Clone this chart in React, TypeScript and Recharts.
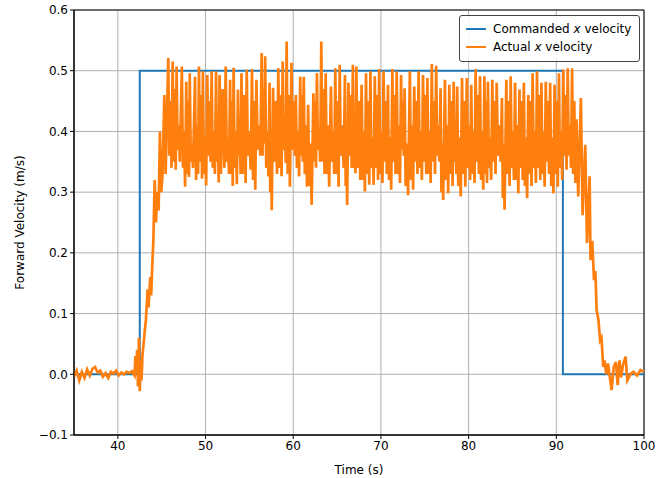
import React from "react";
import {
  LineChart,
  Line,
  XAxis,
  YAxis,
  CartesianGrid,
  Legend,
  ReferenceArea,
} from "recharts";

// Commanded forward velocity step (time s, velocity m/s)
const commandedT = [35, 42.5, 42.5, 90.75, 90.75, 100];
const commandedV = [0, 0, 0.5, 0.5, 0, 0];

const actualPoints: [number, number][] = [
  // idle before the command
  [35.0, -0.004], [35.3, 0.006], [35.6, -0.01], [35.9, 0.004], [36.2, -0.006],
  [36.5, 0.008], [36.8, -0.002], [37.1, 0.009], [37.4, 0.012], [37.7, 0.003],
  [38.0, 0.006], [38.3, -0.004], [38.6, 0.002], [38.9, -0.006], [39.2, 0.004],
  [39.5, 0.001], [39.8, 0.006], [40.1, -0.002], [40.4, 0.003], [40.7, 0.0],
  [41.0, 0.004], [41.3, 0.002], [41.6, 0.005], [41.9, -0.002], [42.0, 0.03],
  [42.1, 0.0], [42.2, 0.04], [42.3, -0.02], [42.4, 0.06], [42.5, -0.028],
  // ramp up
  [42.6, 0.02], [42.7, -0.01], [42.8, 0.03], [43.0, 0.06], [43.2, 0.09],
  [43.4, 0.14], [43.5, 0.11], [43.7, 0.16], [43.8, 0.13], [43.9, 0.17],
  [44.05, 0.22], [44.2, 0.32], [44.35, 0.25], [44.5, 0.3], [44.65, 0.27],
  [44.8, 0.4], [44.95, 0.3], [45.1, 0.33], [45.3, 0.46], [45.45, 0.33],
  // oscillating cruise
  [45.75, 0.521], [45.87, 0.36], [46.0, 0.45], [46.12, 0.34],
  [46.25, 0.515], [46.37, 0.35], [46.5, 0.47], [46.6, 0.337],
  [46.7, 0.507], [46.82, 0.37], [46.95, 0.41], [47.07, 0.35],
  [47.3, 0.507], [47.42, 0.34], [47.55, 0.4], [47.67, 0.309],
  [47.8, 0.482], [47.92, 0.33], [48.02, 0.45], [48.12, 0.325],
  [48.2, 0.496], [48.32, 0.35], [48.45, 0.38], [48.57, 0.34],
  [48.8, 0.49], [48.92, 0.32], [49.05, 0.41], [49.15, 0.33],
  [49.25, 0.507], [49.37, 0.35], [49.5, 0.46], [49.6, 0.322],
  [49.7, 0.499], [49.82, 0.33], [49.95, 0.39], [50.07, 0.311],
  [50.2, 0.493], [50.32, 0.36], [50.45, 0.45], [50.57, 0.35],
  [50.7, 0.499], [50.82, 0.34], [50.95, 0.4], [51.07, 0.33],
  [51.2, 0.499], [51.3, 0.35], [51.4, 0.41], [51.5, 0.316],
  [51.6, 0.493], [51.75, 0.33], [51.95, 0.47], [52.15, 0.34],
  [52.3, 0.507], [52.42, 0.35], [52.55, 0.39], [52.67, 0.33],
  [52.8, 0.485], [52.9, 0.33], [53.0, 0.45], [53.1, 0.31],
  [53.2, 0.505], [53.32, 0.34], [53.45, 0.4], [53.57, 0.313],
  [53.7, 0.469], [53.8, 0.36], [53.9, 0.41], [54.0, 0.33],
  [54.1, 0.496], [54.22, 0.33], [54.4, 0.46], [54.57, 0.315],
  [54.7, 0.502], [54.82, 0.36], [54.98, 0.4], [55.15, 0.337],
  [55.3, 0.503], [55.42, 0.32], [55.55, 0.45], [55.67, 0.304],
  [55.8, 0.485], [55.95, 0.37], [56.1, 0.41], [56.25, 0.36],
  [56.4, 0.529], [56.5, 0.36], [56.6, 0.47], [56.7, 0.38],
  [56.8, 0.524], [56.92, 0.34], [57.05, 0.4], [57.17, 0.326],
  [57.3, 0.48], [57.38, 0.3], [57.46, 0.39], [57.55, 0.27],
  [57.7, 0.472], [57.85, 0.35], [58.0, 0.45], [58.15, 0.33],
  [58.3, 0.504], [58.42, 0.34], [58.55, 0.46], [58.67, 0.326],
  [58.8, 0.515], [58.92, 0.37], [59.05, 0.41], [59.15, 0.348],
  [59.25, 0.548], [59.37, 0.33], [59.5, 0.46], [59.62, 0.309],
  [59.8, 0.513], [59.92, 0.37], [60.05, 0.45], [60.17, 0.36],
  [60.3, 0.46], [60.42, 0.34], [60.55, 0.4], [60.67, 0.326],
  [60.8, 0.49], [60.9, 0.36], [61.0, 0.46], [61.1, 0.35],
  [61.2, 0.49], [61.32, 0.33], [61.45, 0.41], [61.57, 0.309],
  [61.7, 0.444], [61.82, 0.31], [61.95, 0.38], [62.1, 0.279],
  [62.3, 0.463], [62.4, 0.35], [62.5, 0.45], [62.6, 0.34],
  [62.7, 0.496], [62.82, 0.37], [62.95, 0.4], [63.07, 0.35],
  [63.2, 0.548], [63.32, 0.35], [63.45, 0.47], [63.57, 0.33],
  [63.7, 0.496], [63.82, 0.33], [63.95, 0.41], [64.1, 0.309],
  [64.3, 0.474], [64.42, 0.35], [64.55, 0.4], [64.67, 0.33],
  [64.8, 0.504], [64.92, 0.33], [65.05, 0.45], [65.17, 0.309],
  [65.3, 0.51], [65.42, 0.36], [65.6, 0.41], [65.75, 0.34],
  [65.9, 0.493], [65.98, 0.31], [66.06, 0.39], [66.15, 0.279],
  [66.3, 0.48], [66.42, 0.36], [66.55, 0.46], [66.67, 0.34],
  [66.8, 0.51], [66.9, 0.34], [67.0, 0.4], [67.1, 0.331],
  [67.2, 0.507], [67.32, 0.34], [67.5, 0.45], [67.65, 0.32],
  [67.8, 0.477], [67.92, 0.32], [68.05, 0.4], [68.17, 0.301],
  [68.3, 0.496], [68.42, 0.33], [68.55, 0.45], [68.67, 0.312],
  [68.8, 0.499], [68.92, 0.34], [69.05, 0.39], [69.17, 0.312],
  [69.3, 0.491], [69.42, 0.34], [69.55, 0.46], [69.67, 0.32],
  [69.8, 0.503], [69.92, 0.33], [70.05, 0.4], [70.17, 0.315],
  [70.3, 0.499], [70.42, 0.35], [70.55, 0.45], [70.67, 0.33],
  [70.8, 0.477], [70.92, 0.32], [71.05, 0.39], [71.17, 0.304],
  [71.3, 0.503], [71.42, 0.35], [71.55, 0.46], [71.67, 0.33],
  [71.8, 0.499], [71.92, 0.33], [72.05, 0.41], [72.17, 0.315],
  [72.3, 0.493], [72.4, 0.37], [72.5, 0.45], [72.6, 0.36],
  [72.7, 0.471], [72.82, 0.31], [72.95, 0.38], [73.1, 0.295],
  [73.3, 0.499], [73.42, 0.32], [73.55, 0.41], [73.67, 0.304],
  [73.8, 0.474], [73.92, 0.35], [74.05, 0.45], [74.17, 0.33],
  [74.3, 0.499], [74.42, 0.34], [74.55, 0.4], [74.67, 0.32],
  [74.8, 0.493], [74.92, 0.35], [75.05, 0.46], [75.17, 0.33],
  [75.3, 0.488], [75.42, 0.33], [75.55, 0.4], [75.67, 0.315],
  [75.8, 0.511], [75.92, 0.35], [76.05, 0.45], [76.17, 0.33],
  [76.3, 0.508], [76.42, 0.36], [76.55, 0.41], [76.67, 0.35],
  [76.8, 0.471], [76.9, 0.3], [77.0, 0.38], [77.1, 0.287],
  [77.3, 0.485], [77.42, 0.32], [77.55, 0.41], [77.67, 0.298],
  [77.8, 0.477], [77.92, 0.33], [78.05, 0.45], [78.17, 0.31],
  [78.3, 0.482], [78.4, 0.35], [78.5, 0.4], [78.6, 0.33],
  [78.7, 0.474], [78.82, 0.31], [78.95, 0.39], [79.1, 0.293],
  [79.25, 0.488], [79.37, 0.33], [79.5, 0.45], [79.62, 0.309],
  [79.8, 0.488], [79.92, 0.34], [80.05, 0.41], [80.17, 0.32],
  [80.3, 0.477], [80.42, 0.33], [80.55, 0.4], [80.67, 0.315],
  [80.8, 0.503], [80.92, 0.35], [81.05, 0.46], [81.17, 0.33],
  [81.3, 0.491], [81.42, 0.32], [81.55, 0.4], [81.67, 0.304],
  [81.8, 0.491], [81.9, 0.33], [82.0, 0.45], [82.1, 0.315],
  [82.2, 0.482], [82.32, 0.34], [82.45, 0.39], [82.57, 0.32],
  [82.7, 0.485], [82.82, 0.35], [82.95, 0.45], [83.07, 0.33],
  [83.2, 0.48], [83.35, 0.36], [83.5, 0.41], [83.65, 0.35],
  [83.8, 0.455], [83.9, 0.29], [84.0, 0.38], [84.1, 0.271],
  [84.3, 0.485], [84.42, 0.33], [84.55, 0.45], [84.67, 0.31],
  [84.8, 0.491], [84.92, 0.34], [85.05, 0.4], [85.17, 0.32],
  [85.3, 0.48], [85.42, 0.32], [85.55, 0.41], [85.67, 0.298],
  [85.8, 0.469], [85.92, 0.34], [86.05, 0.45], [86.17, 0.32],
  [86.3, 0.48], [86.42, 0.31], [86.55, 0.39], [86.67, 0.29],
  [86.8, 0.46], [86.92, 0.33], [87.05, 0.45], [87.17, 0.31],
  [87.3, 0.496], [87.42, 0.34], [87.55, 0.4], [87.67, 0.315],
  [87.8, 0.499], [87.92, 0.34], [88.05, 0.46], [88.17, 0.32],
  [88.3, 0.48], [88.42, 0.33], [88.55, 0.4], [88.67, 0.309],
  [88.8, 0.482], [88.92, 0.35], [89.05, 0.45], [89.17, 0.33],
  [89.3, 0.48], [89.42, 0.31], [89.55, 0.39], [89.67, 0.298],
  [89.8, 0.477], [89.92, 0.33], [90.05, 0.45], [90.17, 0.309],
  [90.3, 0.496], [90.42, 0.34], [90.55, 0.4], [90.67, 0.32],
  [90.8, 0.502], [90.92, 0.36], [91.05, 0.46], [91.17, 0.337],
  [91.3, 0.504], [91.42, 0.36], [91.55, 0.41], [91.67, 0.34],
  [91.8, 0.504], [91.92, 0.33], [92.05, 0.45], [92.17, 0.315],
  // ramp down
  [92.3, 0.42], [92.5, 0.293], [92.8, 0.455], [93.0, 0.262], [93.3, 0.378],
  [93.5, 0.216], [93.8, 0.326], [93.9, 0.188], [94.1, 0.22], [94.3, 0.155],
  [94.45, 0.17], [94.6, 0.106], [94.8, 0.09], [95.0, 0.056], [95.15, 0.06],
  [95.35, 0.012], [95.5, 0.023], [95.7, 0.0], [95.9, 0.018], [96.3, -0.026],
  [96.55, 0.012], [96.8, 0.02], [97.0, -0.018], [97.2, 0.023], [97.4, -0.005],
  [97.6, 0.015], [97.9, 0.029], [98.1, -0.01], [98.5, 0.001], [98.8, 0.004],
  [99.2, -0.002], [99.6, 0.007], [100.0, 0.004],
];

const xTicks = [40, 50, 60, 70, 80, 90, 100];
const yTicks = [-0.1, 0, 0.1, 0.2, 0.3, 0.4, 0.5, 0.6];

const commandedData = commandedT.map((t, i) => ({ t, v: commandedV[i] }));
const actualData = actualPoints.map(([t, v]) => ({ t, v }));

const FONT = "DejaVu Sans";
const BLUE = "#1f77b4";
const ORANGE = "#ff7f0e";

function LegendBox() {
  const items = [
    { color: BLUE, pre: "Commanded " },
    { color: ORANGE, pre: "Actual " },
  ];
  return (
    <div
      style={{
        border: "1px solid #444",
        borderRadius: 3,
        background: "rgba(255,255,255,0.85)",
        padding: "4px 8px 5px 6px",
        fontFamily: FONT,
        fontSize: 12,
        color: "#000",
        lineHeight: "18px",
      }}
    >
      {items.map((it) => (
        <div key={it.pre} style={{ display: "flex", alignItems: "center" }}>
          <span
            style={{
              display: "inline-block",
              width: 20,
              height: 2,
              background: it.color,
              marginRight: 7,
            }}
          />
          <span>
            {it.pre}
            <i>x</i> velocity
          </span>
        </div>
      ))}
    </div>
  );
}

const fmtY = (v: number) => v.toFixed(1).replace("-", "\u2212");

export default function App() {
  return (
    <div style={{ position: "absolute", left: 0, top: 0, width: 668, height: 478 }}>
      <LineChart
        width={668}
        height={478}
        margin={{ top: 10, right: 24, bottom: 0, left: 0 }}
        style={{ fontFamily: FONT }}
      >
        <CartesianGrid stroke="#b0b0b0" strokeWidth={1} />
        <XAxis
          dataKey="t"
          type="number"
          domain={[35, 100]}
          ticks={xTicks}
          allowDataOverflow
          height={43}
          tickSize={4}
          stroke="#000"
          tick={{ fill: "#000", fontSize: 12 }}
          label={{
            value: "Time (s)",
            position: "insideBottom",
            offset: 4,
            style: { fill: "#000", fontSize: 12 },
          }}
        />
        <YAxis
          type="number"
          domain={[-0.1, 0.6]}
          ticks={yTicks}
          allowDataOverflow
          width={74}
          tickSize={4}
          stroke="#000"
          tickFormatter={fmtY}
          tick={{ fill: "#000", fontSize: 12 }}
          label={{
            value: "Forward Velocity (m/s)",
            angle: -90,
            position: "insideLeft",
            offset: 20,
            style: { fill: "#000", fontSize: 12, textAnchor: "middle" },
          }}
        />
        <ReferenceArea
          x1={35}
          x2={100}
          y1={-0.1}
          y2={0.6}
          fill="none"
          stroke="#000"
          strokeWidth={1}
          ifOverflow="visible"
        />
        <Line
          data={commandedData}
          dataKey="v"
          type="linear"
          stroke={BLUE}
          strokeWidth={2}
          dot={false}
          isAnimationActive={false}
        />
        <Line
          data={actualData}
          dataKey="v"
          type="linear"
          stroke={ORANGE}
          strokeWidth={2.7}
          dot={false}
          isAnimationActive={false}
        />
        <Legend
          layout="vertical"
          align="center"
          verticalAlign="middle"
          wrapperStyle={{ left: 459, top: 15, width: "auto" }}
          content={() => <LegendBox />}
        />
      </LineChart>
    </div>
  );
}
